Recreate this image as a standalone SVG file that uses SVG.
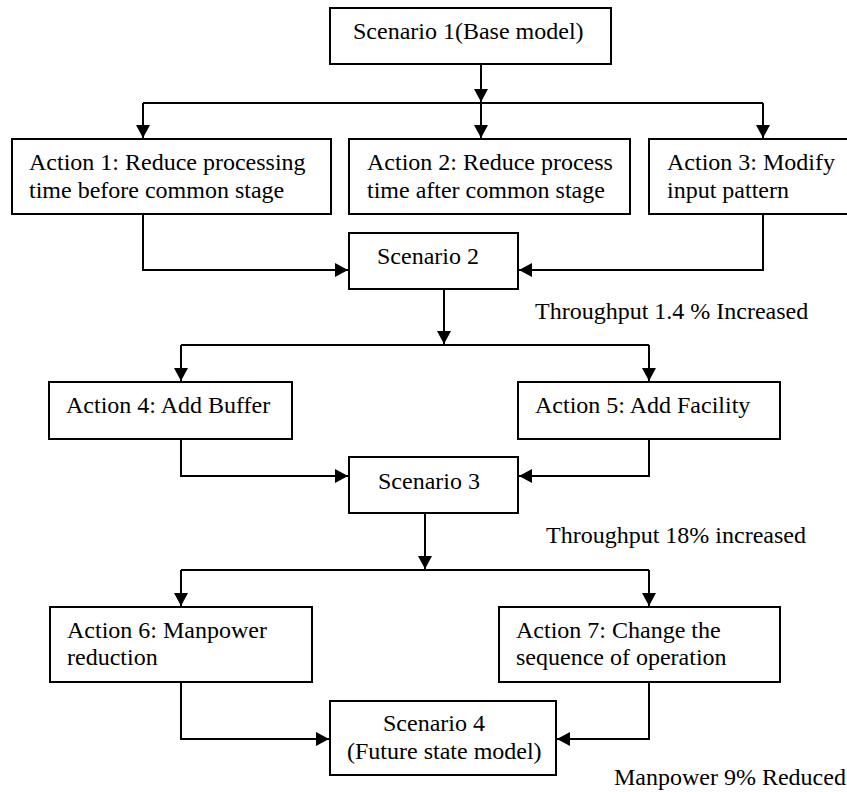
<svg xmlns="http://www.w3.org/2000/svg" width="847" height="792" viewBox="0 0 847 792">
<defs>
<style>
.box{fill:#fff;stroke:#000;stroke-width:2}
.t{font-family:"Liberation Serif","Times New Roman",serif;font-size:24px;fill:#000}
.c{fill:none;stroke:#000;stroke-width:2}
</style>
<marker id="ah" viewBox="0 0 13 14" refX="13" refY="7" markerWidth="13" markerHeight="14" markerUnits="userSpaceOnUse" orient="auto">
<path d="M0,0 L13,7 L0,14 z" fill="#000"/>
</marker>
</defs>
<rect width="847" height="792" fill="#fff"/>
<g id="connectors">
<path class="c" d="M481,64 V102" marker-end="url(#ah)"/>
<path class="c" d="M143,103 H763"/>
<path class="c" d="M143,103 V138" marker-end="url(#ah)"/>
<path class="c" d="M481,103 V138" marker-end="url(#ah)"/>
<path class="c" d="M763,103 V138" marker-end="url(#ah)"/>
<path class="c" d="M143,214 V270 H348" marker-end="url(#ah)"/>
<path class="c" d="M763,214 V270 H519" marker-end="url(#ah)"/>
<path class="c" d="M444,289 V344" marker-end="url(#ah)"/>
<path class="c" d="M181,345 H649"/>
<path class="c" d="M181,345 V381" marker-end="url(#ah)"/>
<path class="c" d="M649,345 V381" marker-end="url(#ah)"/>
<path class="c" d="M181,439 V476 H348" marker-end="url(#ah)"/>
<path class="c" d="M649,439 V476 H519" marker-end="url(#ah)"/>
<path class="c" d="M425,513 V569" marker-end="url(#ah)"/>
<path class="c" d="M181,570 H649"/>
<path class="c" d="M181,570 V606" marker-end="url(#ah)"/>
<path class="c" d="M649,570 V606" marker-end="url(#ah)"/>
<path class="c" d="M181,682 V739 H329" marker-end="url(#ah)"/>
<path class="c" d="M649,682 V739 H557" marker-end="url(#ah)"/>
</g>
<g id="scenario1"><rect class="box" x="330" y="8" width="281" height="56"/><text class="t" x="353" y="39">Scenario 1(Base model)</text></g>
<g id="action1"><rect class="box" x="12" y="139" width="319" height="75"/><text class="t" x="29" y="170">Action 1: Reduce processing</text><text class="t" x="29" y="198">time before common stage</text></g>
<g id="action2"><rect class="box" x="349" y="139" width="281" height="75"/><text class="t" x="367" y="170">Action 2: Reduce process</text><text class="t" x="367" y="198">time after common stage</text></g>
<g id="action3"><rect class="box" x="649" y="139" width="200" height="75"/><text class="t" x="667" y="170">Action 3: Modify</text><text class="t" x="667" y="198">input pattern</text></g>
<g id="scenario2"><rect class="box" x="349" y="233" width="169" height="56"/><text class="t" x="377" y="264">Scenario 2</text></g>
<g id="label1"><text class="t" x="535" y="319">Throughput 1.4 % Increased</text></g>
<g id="action4"><rect class="box" x="49" y="382" width="243" height="57"/><text class="t" x="66" y="413">Action 4: Add Buffer</text></g>
<g id="action5"><rect class="box" x="518" y="382" width="262" height="57"/><text class="t" x="535" y="413">Action 5: Add Facility</text></g>
<g id="scenario3"><rect class="box" x="349" y="457" width="169" height="56"/><text class="t" x="378" y="489">Scenario 3</text></g>
<g id="label2"><text class="t" x="546" y="543">Throughput 18% increased</text></g>
<g id="action6"><rect class="box" x="50" y="607" width="262" height="75"/><text class="t" x="67" y="638">Action 6: Manpower</text><text class="t" x="67" y="665">reduction</text></g>
<g id="action7"><rect class="box" x="499" y="607" width="281" height="75"/><text class="t" x="516" y="638">Action 7: Change the</text><text class="t" x="516" y="665">sequence of operation</text></g>
<g id="scenario4"><rect class="box" x="330" y="701" width="226" height="74"/><text class="t" x="383" y="731">Scenario 4</text><text class="t" x="347" y="759">(Future state model)</text></g>
<g id="label3"><text class="t" x="614" y="785">Manpower 9% Reduced</text></g>
</svg>
